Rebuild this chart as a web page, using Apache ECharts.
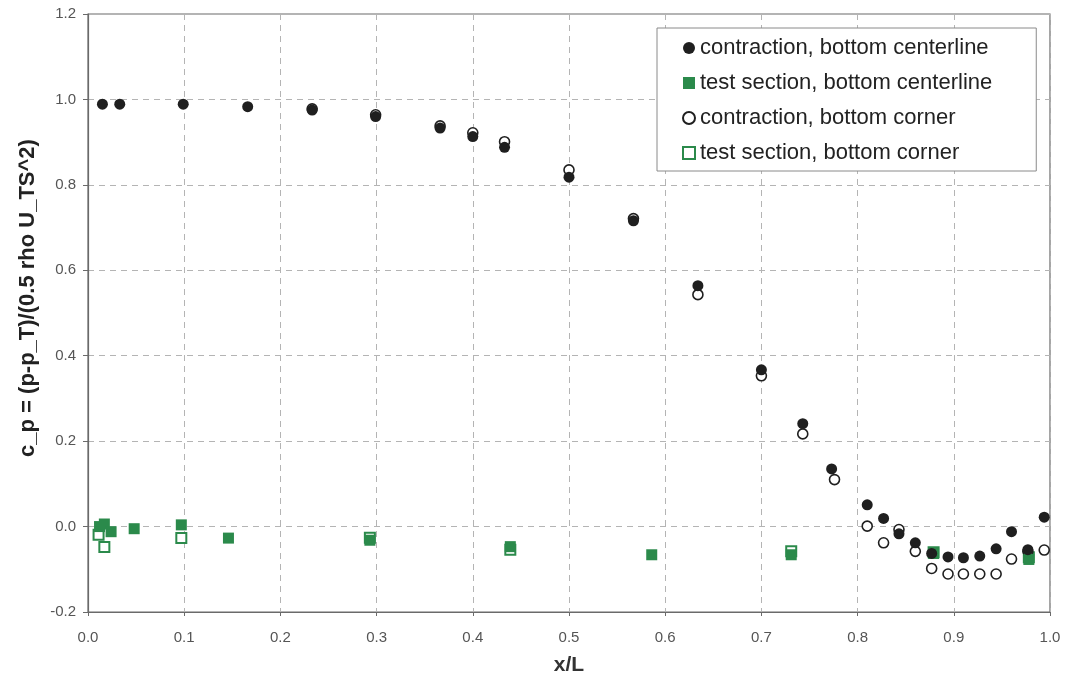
<!DOCTYPE html>
<html>
<head>
<meta charset="utf-8">
<script src="https://cdn.jsdelivr.net/npm/echarts@6/dist/echarts.min.js"></script>
<style>
  html, body { margin: 0; padding: 0; background: #fff; }
  #chart { width: 1068px; height: 686px; }
</style>
</head>
<body>
<div id="chart"></div>
<script>
// Pressure coefficient along the contraction and test section floor
const contrCenterX = [0.015, 0.033, 0.099, 0.166, 0.233, 0.299, 0.366, 0.400, 0.433, 0.500, 0.567, 0.634, 0.700, 0.743, 0.773, 0.810, 0.827, 0.843, 0.860, 0.877, 0.894, 0.910, 0.927, 0.944, 0.960, 0.977, 0.994];
const contrCenterY = [0.989, 0.989, 0.989, 0.983, 0.975, 0.960, 0.933, 0.913, 0.888, 0.818, 0.716, 0.564, 0.367, 0.241, 0.135, 0.051, 0.019, -0.017, -0.038, -0.063, -0.071, -0.073, -0.069, -0.052, -0.012, -0.054, 0.022];

const testCenterX = [0.012, 0.017, 0.024, 0.048, 0.097, 0.146, 0.293, 0.439, 0.586, 0.731, 0.879, 0.978];
const testCenterY = [0.000, 0.006, -0.012, -0.005, 0.004, -0.027, -0.032, -0.047, -0.066, -0.066, -0.063, -0.077];

const contrCornerX = [0.233, 0.299, 0.366, 0.400, 0.433, 0.500, 0.567, 0.634, 0.700, 0.743, 0.776, 0.810, 0.827, 0.843, 0.860, 0.877, 0.894, 0.910, 0.927, 0.944, 0.960, 0.977, 0.994];
const contrCornerY = [0.978, 0.964, 0.938, 0.922, 0.901, 0.835, 0.721, 0.543, 0.353, 0.217, 0.110, 0.001, -0.038, -0.007, -0.058, -0.098, -0.111, -0.111, -0.111, -0.111, -0.076, -0.058, -0.055];

const testCornerX = [0.011, 0.017, 0.097, 0.293, 0.439, 0.731, 0.879, 0.978];
const testCornerY = [-0.019, -0.048, -0.027, -0.026, -0.054, -0.058, -0.060, -0.072];

const seriesNames = [
  'contraction, bottom centerline',
  'test section, bottom centerline',
  'contraction, bottom corner',
  'test section, bottom corner'
];

const pairs = (xs, ys) => xs.map((x, i) => [x, ys[i]]);

const DARK = '#1f1f1f';
const GREEN = '#2b8a4b';
const GRID = '#b4b4b4';
const AXIS = '#6a6a6a';

const chart = echarts.init(document.getElementById('chart'), null, { renderer: 'canvas' });

chart.setOption({
  backgroundColor: '#ffffff',
  animation: false,
  grid: {
    left: 88, right: 18, top: 14, bottom: 74,
    show: true, borderColor: AXIS, borderWidth: 1.2, backgroundColor: 'transparent'
  },
  legend: {
    data: seriesNames,
    orient: 'vertical',
    left: 657, top: 28,
    padding: [9, 44, 7, 25],
    itemGap: 13,
    itemWidth: 12, itemHeight: 12,
    backgroundColor: '#ffffff',
    borderColor: '#8a8a8a', borderWidth: 1,
    borderRadius: 0,
    textStyle: { fontFamily: 'Liberation Sans, Arial, sans-serif', fontSize: 22, color: '#222', lineHeight: 21 }
  },
  xAxis: {
    type: 'value', min: 0, max: 1, interval: 0.1,
    name: 'x/L', nameLocation: 'middle', nameGap: 43,
    nameTextStyle: { fontFamily: 'Liberation Sans Narrow, Liberation Sans, Arial, sans-serif', fontSize: 21, fontWeight: 'bold', color: '#333' },
    axisLine: { show: true, onZero: false, lineStyle: { color: AXIS, width: 1.2 } },
    axisTick: { show: true, inside: false, length: 4, lineStyle: { color: AXIS } },
    axisLabel: {
      margin: 18, color: '#555', fontSize: 15,
      fontFamily: 'Liberation Sans Narrow, Liberation Sans, Arial, sans-serif',
      formatter: v => v.toFixed(1)
    },
    splitLine: { show: true, lineStyle: { color: GRID, type: [6, 5], width: 1 } }
  },
  yAxis: {
    type: 'value', min: -0.2, max: 1.2, interval: 0.2,
    name: 'c_p = (p-p_T)/(0.5 rho U_TS^2)', nameLocation: 'middle', nameGap: 49,
    nameTextStyle: {
      fontFamily: 'Liberation Sans, Arial, sans-serif', fontSize: 22, fontWeight: 'bold', color: '#222',
      padding: [0, 0, 0, 30]
    },
    axisLine: { show: true, lineStyle: { color: AXIS, width: 1.2 } },
    axisTick: { show: true, inside: false, length: 5, lineStyle: { color: AXIS } },
    axisLabel: {
      margin: 12, color: '#555', fontSize: 15,
      fontFamily: 'Liberation Sans, Arial, sans-serif',
      formatter: v => v.toFixed(1)
    },
    splitLine: { show: true, lineStyle: { color: GRID, type: [6, 5], width: 1 } }
  },
  series: [
    {
      name: seriesNames[0], type: 'scatter', z: 4,
      symbol: 'circle', symbolSize: 11,
      itemStyle: { color: DARK, opacity: 1 },
      data: pairs(contrCenterX, contrCenterY)
    },
    {
      name: seriesNames[1], type: 'scatter', z: 3,
      symbol: 'rect', symbolSize: 11,
      itemStyle: { color: GREEN, opacity: 1 },
      data: pairs(testCenterX, testCenterY)
    },
    {
      name: seriesNames[2], type: 'scatter', z: 2,
      symbol: 'circle', symbolSize: 10,
      itemStyle: { color: '#ffffff', borderColor: DARK, borderWidth: 1.6, opacity: 1 },
      data: pairs(contrCornerX, contrCornerY)
    },
    {
      name: seriesNames[3], type: 'scatter', z: 1,
      symbol: 'rect', symbolSize: 10,
      itemStyle: { color: '#ffffff', borderColor: GREEN, borderWidth: 2, opacity: 1 },
      data: pairs(testCornerX, testCornerY)
    }
  ]
});
</script>
</body>
</html>
